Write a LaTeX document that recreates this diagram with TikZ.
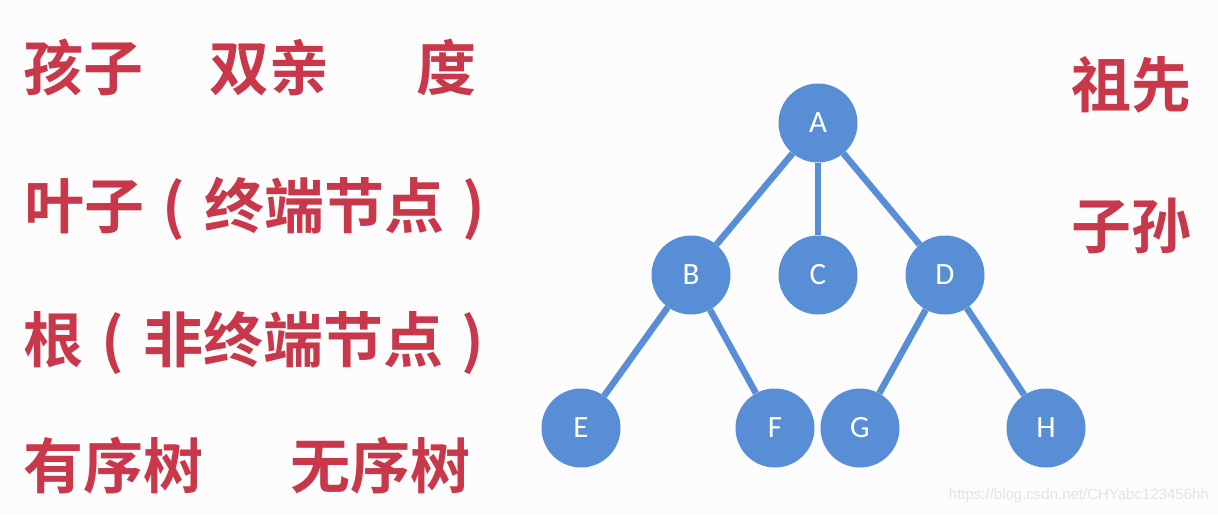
\documentclass[tikz,border=0pt]{standalone}
\usepackage{fontspec}
\newfontfamily\cjk{Noto Sans CJK SC Bold}
\newfontfamily\lat{Carlito}
\newfontfamily\wm{Liberation Sans}
\definecolor{tred}{RGB}{200,56,74}
\definecolor{tblue}{RGB}{88,142,213}
\definecolor{bg}{RGB}{252,252,252}
\definecolor{wmgray}{RGB}{228,228,228}
\newcommand{\lp}{\makebox[1em][c]{(}}
\newcommand{\rp}{\makebox[1em][c]{)}}
\begin{document}
\begin{tikzpicture}[x=1pt,y=-1pt,
  term/.style={anchor=base west,inner sep=0pt,text=tred,font=\cjk\fontsize{60}{60}\selectfont},
  tnode/.style={circle,fill=tblue,minimum size=79pt,inner sep=0pt,text=white,font=\lat\fontsize{31}{31}\selectfont},
  edge/.style={draw=tblue,line width=6.5pt}]
\fill[bg] (0,0) rectangle (1218,514);
\useasboundingbox (0,0) rectangle (1218,514);
% terms
\node[term] (t1) at (23,90) {孩子};
\node[term] (t2) at (209,90) {双亲};
\node[term] (t3) at (416,90) {度};
\node[term] (t4) at (24,228) {叶子\lp 终端节点\rp};
\node[term] (t5) at (23,362) {根\lp 非终端节点\rp};
\node[term] (t6) at (23,488) {有序树};
\node[term] (t7) at (290,488) {无序树};
\node[term] (t8) at (1071,107) {祖先};
\node[term] (t9) at (1071,248) {子孙};
% tree
\node[tnode] (A) at (818,123) {A};
\node[tnode] (B) at (691,275) {B};
\node[tnode] (C) at (818,275) {C};
\node[tnode] (D) at (945,275) {D};
\node[tnode] (E) at (581,428) {E};
\node[tnode] (F) at (775,428) {F};
\node[tnode] (G) at (860,428) {G};
\node[tnode] (H) at (1046,428) {H};
\draw[edge] (A) -- (B);
\draw[edge] (A) -- (C);
\draw[edge] (A) -- (D);
\draw[edge] (B) -- (E);
\draw[edge] (B) -- (F);
\draw[edge] (D) -- (G);
\draw[edge] (D) -- (H);
\node[anchor=east,inner sep=0pt,text=wmgray,font=\wm\fontsize{15}{15}\selectfont] (wm) at (1209,496) {https://blog.csdn.net/CHYabc123456hh};
\end{tikzpicture}
\end{document}
